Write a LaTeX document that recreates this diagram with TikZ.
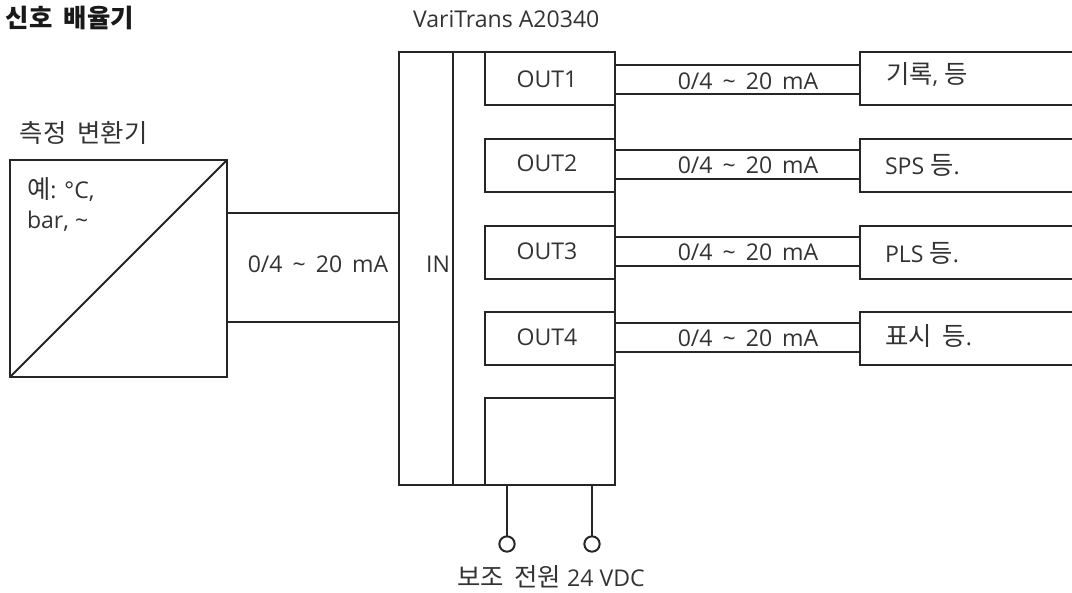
\documentclass[tikz,border=0pt]{standalone}
\usepackage{fontspec}
\setmainfont{Open Sans}
\newfontfamily\kr{Noto Sans CJK KR}[Scale=1.1,WordSpace=1.9]
\newcommand{\K}[1]{{\kr #1}}
\newcommand{\MA}{{\spaceskip=7.5pt 0/4 \textasciitilde{} 20 mA}}
\begin{document}
\begin{tikzpicture}[x=0.75pt,y=-0.75pt,
  line/.style={draw=black!85,line width=1.5pt},
  blockbox/.style={line,rectangle,inner sep=0pt,outer sep=0pt,anchor=north west},
  openbox/.style={rectangle,inner sep=0pt,outer sep=0pt,anchor=north west,minimum width=159pt,minimum height=39.75pt},
  outbox/.style={blockbox,minimum width=97.5pt,minimum height=39.75pt},
  lab/.style={inner sep=0pt,outer sep=0pt,text=black!80,font=\fontsize{17.3pt}{22pt}\selectfont,align=left},
  term/.style={line,circle,fill=white,minimum size=11.5pt,inner sep=0pt,outer sep=0pt}]
\useasboundingbox (0,0) rectangle (1072,593);
% transmitter
\node[blockbox,minimum width=162.75pt,minimum height=162.75pt] (tr) at (10,160) {};
\draw[line] (tr.south west) -- (tr.north east);
% isolator
\node[blockbox,minimum width=162pt,minimum height=324.75pt] (main) at (399,52) {};
\coordinate (sepT) at (453,52);
\coordinate (sepB) at (453,485);
\draw[line] (sepT) -- (sepB);
\node[outbox] (o1) at (485,52) {};
\node[outbox] (o2) at (485,139) {};
\node[outbox] (o3) at (485,226) {};
\node[outbox] (o4) at (485,312) {};
\node[outbox,minimum height=65.25pt] (pw) at (485,398) {};
% receivers
\foreach \n/\y in {r1/52,r2/139,r3/226,r4/312}{
  \node[openbox] (\n) at (860,\y) {};
  \draw[line] (\n.north east) -- (\n.north west) -- (\n.south west) -- (\n.south east);
}
% output wires
\foreach \i/\u/\d in {1/10.1/-11.6,2/11.6/-10.3,3/11.6/-10.1,4/11.6/-10.1}{
  \draw[line] ([yshift=\u pt]o\i.east) -- ([yshift=\u pt]r\i.west);
  \draw[line] ([yshift=\d pt]o\i.east) -- ([yshift=\d pt]r\i.west);
}
% input wires
\draw[line] ([yshift=41.6pt]tr.east) -- ([yshift=41.6pt]tr.east -| main.west);
\draw[line] ([yshift=-40.1pt]tr.east) -- ([yshift=-40.1pt]tr.east -| main.west);
% power terminals
\node[term] (t1) at (507,544) {};
\node[term] (t2) at (592,544) {};
\draw[line] (t1.north) -- (t1.north |- main.south);
\draw[line] (t2.north) -- (t2.north |- main.south);
% texts
\node[lab,anchor=west,font=\fontsize{17.3pt}{23pt}\selectfont\kr\bfseries,text=black!90] (title) at (6,18) {신호 배율기};
\node[lab,anchor=west] (model) at (413,19) {VariTrans A20340};
\node[lab,anchor=west] (trt) at (20,133) {\K{측정 변환기}};
\node[lab,anchor=north west] (trv) at (27,178) {\K{예}: °C,\\bar, \textasciitilde};
\node[lab] (in0) at (318,264) {\MA};
\node[lab] (in) at (438,264) {IN};
\foreach \n/\t/\y in {o1/OUT1/79,o2/OUT2/163,o3/OUT3/251,o4/OUT4/337}{
  \node[lab] (t\n) at (547,\y) {\t};
}
\foreach \n/\y in {m1/81,m2/165,m3/252,m4/338}{
  \node[lab] (\n) at (748,\y) {\MA};
}
\node[lab,anchor=west] (l1) at (886,74) {\K{기록}, \K{등}};
\node[lab,anchor=west] (l2) at (885,165) {SPS \K{등}.};
\node[lab,anchor=west] (l3) at (885,253) {PLS \K{등}.};
\node[lab,anchor=west] (l4) at (885,336) {\K{표시 등}.};
\node[lab,anchor=west] (pwr) at (457,577) {\K{보조 전원} 24 VDC};
\end{tikzpicture}
\end{document}
